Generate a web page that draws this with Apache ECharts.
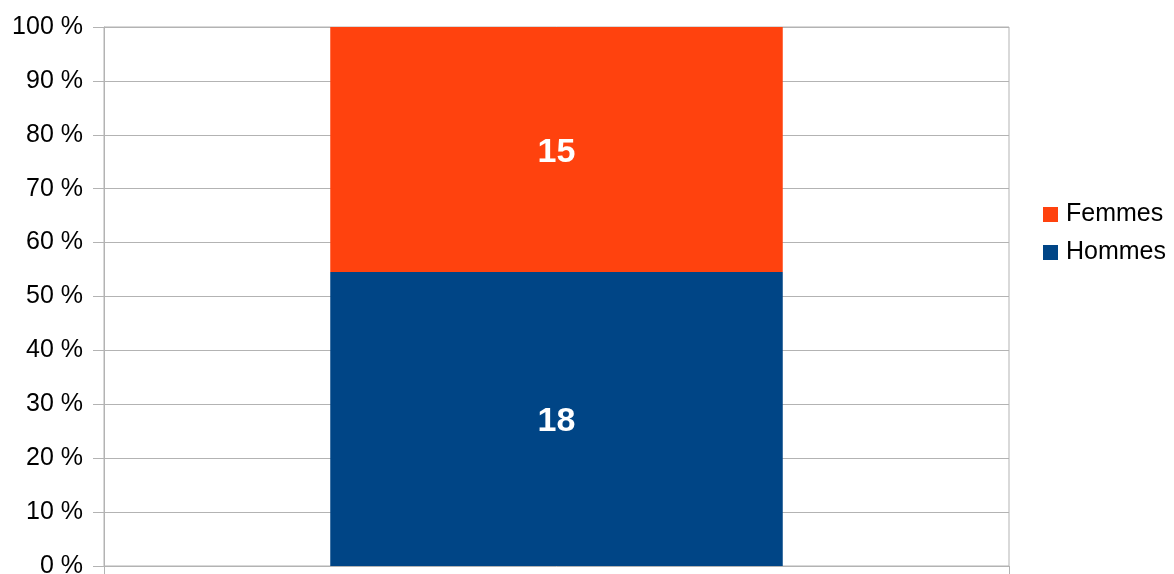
<!DOCTYPE html>
<html>
<head>
<meta charset="utf-8">
<script src="https://cdn.jsdelivr.net/npm/echarts@6/dist/echarts.min.js"></script>
<style>
  html, body { margin: 0; padding: 0; background: #fff; }
  #chart { width: 1174px; height: 574px; }
</style>
</head>
<body>
<div id="chart"></div>
<script>
// data
const categories = [''];
const hommes = [18];
const femmes = [15];
const yTicks = [0, 10, 20, 30, 40, 50, 60, 70, 80, 90, 100];

// 100 % stacking done by hand, labels keep the raw counts
const totals = hommes.map((h, i) => h + femmes[i]);
const pct = (arr) => arr.map((v, i) => v / totals[i] * 100);

const chart = echarts.init(document.getElementById('chart'));

const labelStyle = {
  show: true,
  position: 'inside',
  offset: [0, 3],
  color: '#fff',
  fontFamily: 'Liberation Sans',
  fontWeight: 'bold',
  fontSize: 34
};

chart.setOption({
  animation: false,
  textStyle: { fontFamily: 'Liberation Sans' },
  grid: {
    left: 104, right: 165, top: 27, bottom: 8,
    outerBoundsMode: 'none',
    containLabel: false,
    show: true, borderColor: '#b3b3b3', borderWidth: 1
  },
  legend: {
    orient: 'vertical',
    left: 1043, top: 202,
    padding: 0,
    itemWidth: 15, itemHeight: 15, itemGap: 13,
    icon: 'rect',
    data: ['Femmes', 'Hommes'],
    textStyle: { fontSize: 25, color: '#000', fontFamily: 'Liberation Sans', padding: [0, 0, 0, 3] }
  },
  xAxis: {
    type: 'category',
    data: categories,
    boundaryGap: true,
    axisLine: { show: false },
    axisTick: { show: true, length: 8, lineStyle: { color: '#b3b3b3' } },
    axisLabel: { show: false },
    splitLine: { show: false }
  },
  yAxis: {
    type: 'value',
    min: yTicks[0],
    max: yTicks[yTicks.length - 1],
    interval: 10,
    axisLine: { show: true, lineStyle: { color: '#b3b3b3' } },
    axisTick: { show: true, length: 11, lineStyle: { color: '#b3b3b3' } },
    axisLabel: {
      formatter: '{value} %',
      fontSize: 25,
      color: '#000',
      margin: 21,
      fontFamily: 'Liberation Sans'
    },
    splitLine: { show: true, lineStyle: { color: '#b3b3b3' } }
  },
  series: [
    {
      name: 'Hommes',
      type: 'bar',
      stack: 'total',
      barWidth: '50%',
      data: pct(hommes),
      itemStyle: { color: '#004586' },
      label: Object.assign({}, labelStyle, { formatter: (p) => hommes[p.dataIndex] })
    },
    {
      name: 'Femmes',
      type: 'bar',
      stack: 'total',
      barWidth: '50%',
      data: pct(femmes),
      itemStyle: { color: '#ff420e' },
      label: Object.assign({}, labelStyle, { formatter: (p) => femmes[p.dataIndex] })
    }
  ]
});
</script>
</body>
</html>
